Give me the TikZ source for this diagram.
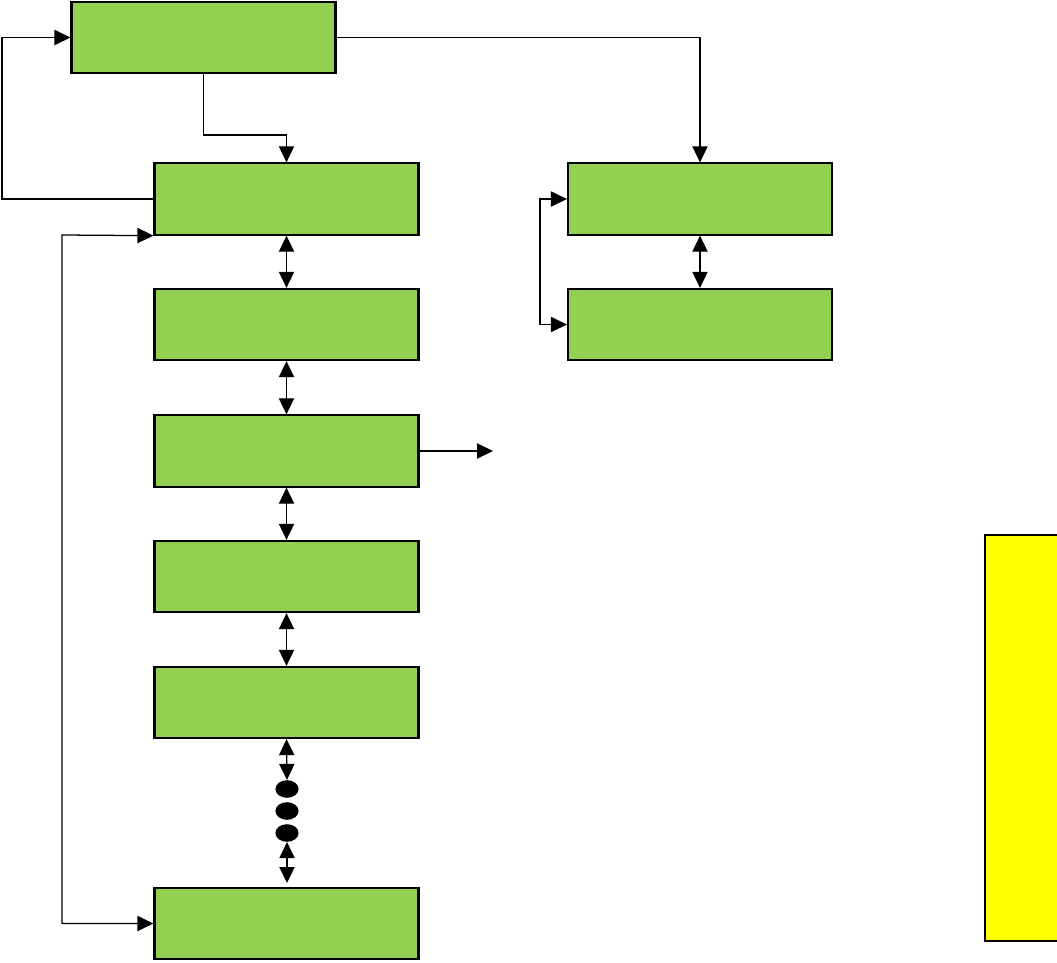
\documentclass[tikz,border=0pt]{standalone}
\usetikzlibrary{arrows.meta,shapes.geometric}

\definecolor{boxgreen}{HTML}{92D050}
\definecolor{noteyellow}{HTML}{FFFF00}

\tikzset{
  block/.style={draw, line width=1.5pt, fill=boxgreen, minimum width=66mm, minimum height=17.8mm, inner sep=0pt},
  link/.style={line width=0.9pt},
  blob/.style={ellipse, fill=black, minimum width=5.8mm, minimum height=4.4mm, inner sep=0pt}
}

\begin{document}
\begin{tikzpicture}[x=0.25mm, y=-0.25mm, >={Triangle[length=4mm,width=3.8mm]}]

  \useasboundingbox (0,0) rectangle (1057,962);

  % Yellow note on the right edge (cut off by the page)
  \begin{scope}
    \clip (0,0) rectangle (1057,962);
    \fill[noteyellow] (985,535) rectangle (1070,941);
    \draw[line width=0.9pt] (1070,535) -- (985,535) -- (985,941) -- (1070,941);
  \end{scope}

  % Boxes
  \node[block] (top) at (203.5,37.5) {};
  \node[block] (b1) at (286.5,199) {};
  \node[block] (b2) at (286.5,324.5) {};
  \node[block] (b3) at (286.5,451) {};
  \node[block] (b4) at (286.5,576.5) {};
  \node[block] (b5) at (286.5,702.5) {};
  \node[block] (b6) at (286.5,923.5) {};
  \node[block] (r1) at (700,199) {};
  \node[block] (r2) at (700,324.5) {};

  % Dots between the last two boxes
  \node[blob] (e1) at (287,789) {};
  \node[blob] (e2) at (287,811) {};
  \node[blob] (e3) at (287,833) {};
  \coordinate (gap) at (287,883);
  \coordinate (out) at (493,451);

  % Top box connections
  \draw[link, ->] (top.east) -| (r1.north);
  \draw[link, ->] (top.south) |- (286.5,135) -- (b1.north);
  \draw[link, ->] (b1.west) -- (2,199) |- (top.west);

  % Long loop on the left
  \draw[link, <->] (b1.south west) -- (62,235) |- (b6.west);

  % Main column
  \draw[link, <->] (b1) -- (b2);
  \draw[link, <->] (b2) -- (b3);
  \draw[link, <->] (b3) -- (b4);
  \draw[link, <->] (b4) -- (b5);
  \draw[link, <->] (b5.south) -- (e1.north);
  \draw[link, <->] (e3.south) -- (gap);

  % Output
  \draw[link, ->] (b3.east) -- (out);

  % Right column
  \draw[link, <->] (r1) -- (r2);
  \draw[link, <->] (r1.west) -- (540,199) |- (r2.west);

\end{tikzpicture}
\end{document}
